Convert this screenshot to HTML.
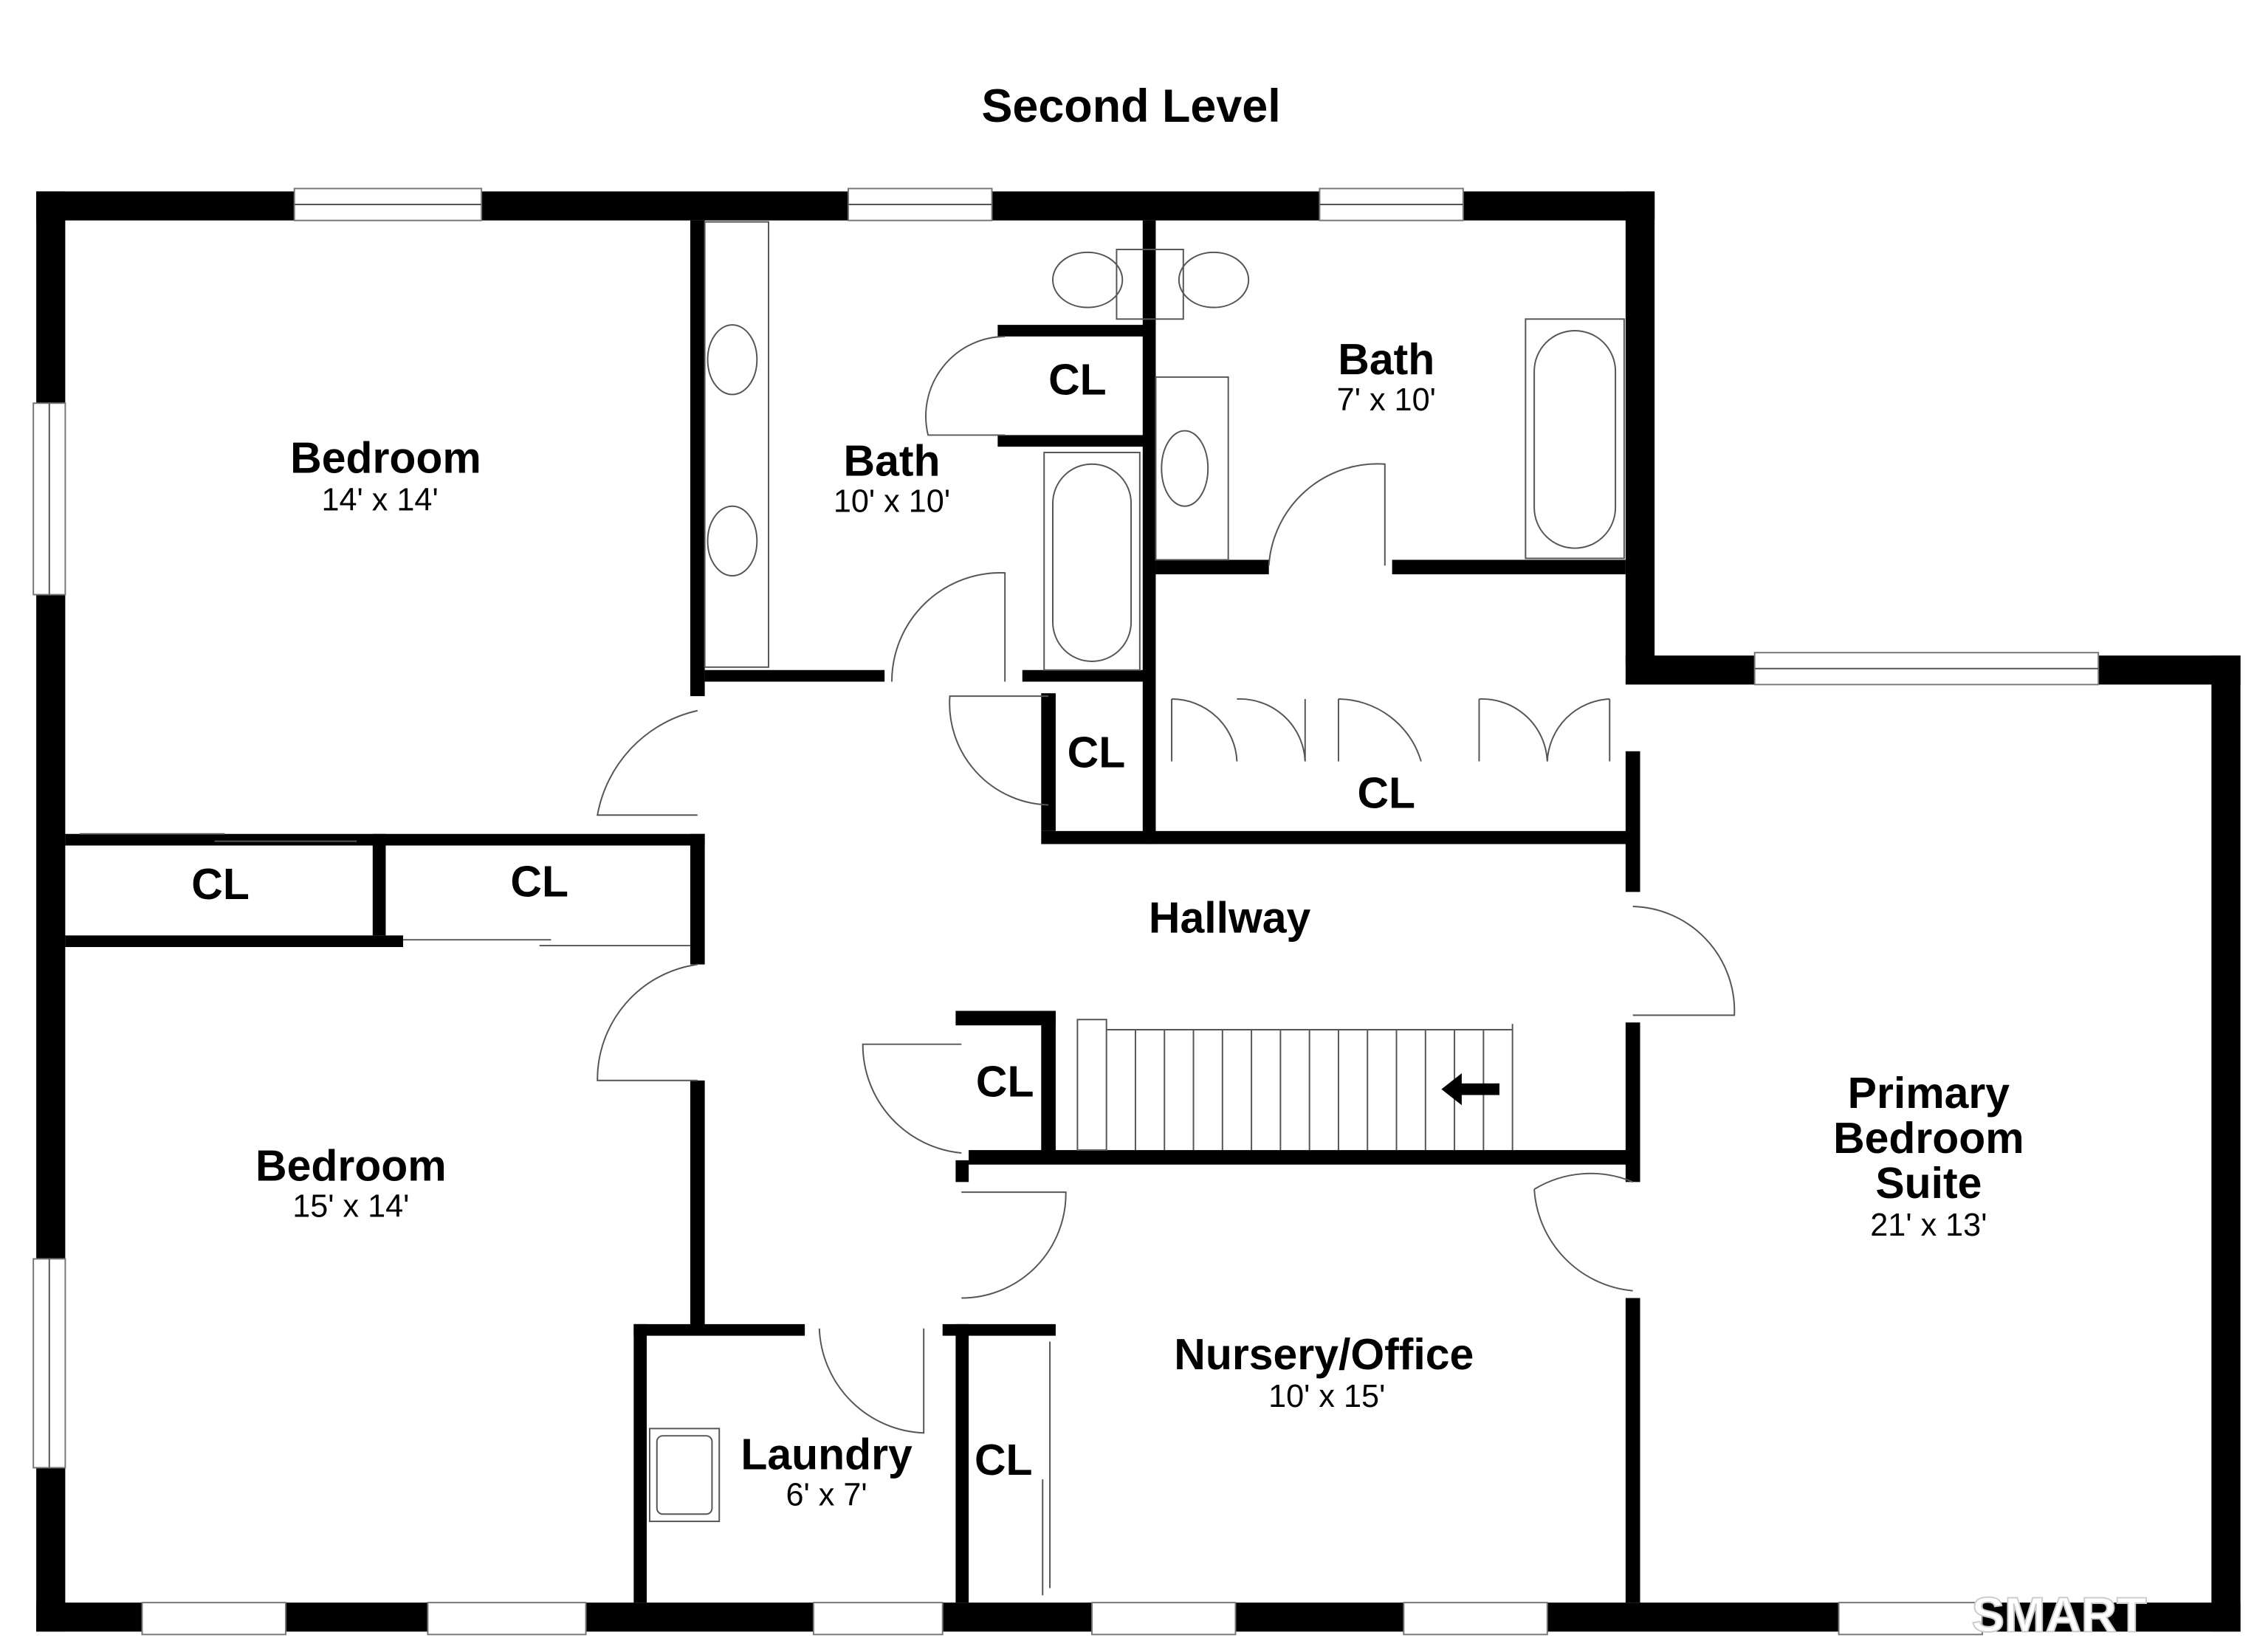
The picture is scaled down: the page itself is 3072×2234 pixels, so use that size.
<!DOCTYPE html>
<html><head><meta charset="utf-8"><style>
html,body{margin:0;padding:0;background:#fff;}
svg{display:block;}
text{font-family:"Liberation Sans",sans-serif;fill:#000;text-anchor:middle;}
.n{font-weight:bold;font-size:30px;}
.d{font-size:22px;}
.t{font-weight:bold;font-size:32px;}
</style></head><body>
<svg width="3072" height="2234" viewBox="0 0 1564 1137" preserveAspectRatio="none">
<rect width="1564" height="1137" fill="#fff"/>
<g fill="#000">
<!-- outer walls -->
<rect x="25" y="132" width="1116" height="20"/>
<rect x="25" y="132" width="20" height="993"/>
<rect x="25" y="1105" width="1520" height="20"/>
<rect x="1121" y="132" width="20" height="326"/>
<rect x="1121" y="452" width="424" height="20"/>
<rect x="1525" y="452" width="20" height="673"/>
<!-- inner walls -->
<rect x="476" y="152" width="10" height="328"/>
<rect x="45" y="575" width="441" height="8"/>
<rect x="45" y="645" width="233" height="8"/>
<rect x="257" y="575" width="9" height="70"/>
<rect x="476" y="575" width="10" height="90"/>
<rect x="476" y="745" width="10" height="170"/>
<rect x="437" y="913" width="118" height="8"/>
<rect x="437" y="913" width="9" height="192"/>
<rect x="659" y="913" width="9" height="192"/>
<rect x="650" y="913" width="78" height="8"/>
<rect x="486" y="462" width="124" height="8"/>
<rect x="705" y="462" width="90" height="8"/>
<rect x="788" y="152" width="9" height="430"/>
<rect x="688" y="224" width="102" height="8"/>
<rect x="688" y="300" width="102" height="8"/>
<rect x="797" y="386" width="78" height="10"/>
<rect x="960" y="386" width="161" height="10"/>
<rect x="718" y="573" width="410" height="9"/>
<rect x="1121" y="518" width="10" height="97"/>
<rect x="1121" y="705" width="10" height="110"/>
<rect x="1121" y="895" width="10" height="210"/>
<rect x="659" y="697" width="69" height="10"/>
<rect x="718" y="697" width="10" height="103"/>
<rect x="668" y="793" width="463" height="10"/>
<rect x="659" y="800" width="9" height="15"/>
<rect x="718" y="478" width="10" height="95"/>
</g>
<!-- windows -->
<g fill="#fff" stroke="#777" stroke-width="1">
<rect x="203" y="130" width="129" height="22"/>
<rect x="585" y="130" width="99" height="22"/>
<rect x="910" y="130" width="99" height="22"/>
<rect x="1210" y="450" width="237" height="22"/>
<rect x="23" y="278" width="22" height="132"/>
<rect x="23" y="868" width="22" height="144"/>
<rect x="98" y="1105" width="99" height="22"/>
<rect x="295" y="1105" width="109" height="22"/>
<rect x="561" y="1105" width="89" height="22"/>
<rect x="753" y="1105" width="99" height="22"/>
<rect x="968" y="1105" width="99" height="22"/>
<rect x="1268" y="1105" width="99" height="22"/>
</g>
<g fill="none" stroke="#555" stroke-width="1">
<line x1="203" y1="141" x2="332" y2="141"/><line x1="585" y1="141" x2="684" y2="141"/><line x1="910" y1="141" x2="1009" y2="141"/>
<line x1="1210" y1="461" x2="1447" y2="461"/><line x1="34" y1="278" x2="34" y2="410"/><line x1="34" y1="868" x2="34" y2="1012"/>
<!-- doors -->
<path d="M481 490 A90 90 0 0 0 412 562 L481 562"/>
<path d="M481 665 A80 80 0 0 0 412 745 L481 745"/>
<path d="M615 470 A75 75 0 0 1 693 395 L693 470"/>
<path d="M693 232 A55 55 0 0 0 640 300 L693 300"/>
<path d="M875 390 A75 75 0 0 1 955 320 L955 390"/>
<path d="M723 480 L655 480 A70 70 0 0 0 723 555"/>
<path d="M808 482 L808 525 M808 482 A45 45 0 0 1 853 525 M853 482 A45 45 0 0 1 900 525 L900 482"/>
<path d="M923 482 L923 525 M923 482 A60 60 0 0 1 980 525 M1020 482 L1020 525 M1020 482 A45 45 0 0 1 1067 525 M1110 482 L1110 525 M1067 525 A45 45 0 0 1 1110 482"/>
<path d="M1126 625 A72 72 0 0 1 1196 700 L1126 700"/>
<path d="M1126 815 A75 75 0 0 0 1058 820 M1058 820 A75 75 0 0 0 1126 890"/>
<path d="M663 720 L595 720 A75 75 0 0 0 663 795"/>
<path d="M663 822 L735 822 A72 72 0 0 1 663 895"/>
<path d="M565 916 A75 75 0 0 0 637 988 L637 916"/>
<!-- sliding doors -->
<path d="M55 575 L155 575 M148 580 L246 580 M278 648 L380 648 M372 652 L476 652"/>
<path d="M724 925 L724 1095 M719 1020 L719 1100"/>
<!-- vanity -->
<rect x="486" y="153" width="44" height="307"/>
<ellipse cx="505" cy="248" rx="17" ry="24"/><ellipse cx="505" cy="373" rx="17" ry="24"/>
<rect x="797" y="260" width="50" height="126"/>
<ellipse cx="817" cy="323" rx="16" ry="26"/>
<!-- toilets -->
<ellipse cx="750" cy="193" rx="24" ry="19"/><rect x="770" y="172" width="46" height="48"/><ellipse cx="837" cy="193" rx="24" ry="19"/>
<!-- tubs -->
<rect x="720" y="312" width="66" height="150"/><rect x="726" y="320" width="54" height="136" rx="27"/>
<rect x="1052" y="220" width="68" height="165"/><rect x="1058" y="228" width="56" height="150" rx="28"/>
<!-- laundry sink -->
<rect x="448" y="985" width="48" height="64"/><rect x="453" y="990" width="38" height="54" rx="4"/>
<!-- stairs -->
<rect x="743" y="703" width="20" height="90"/>
<path d="M763 710 L1043 710 M1043 706 L1043 793"/>
</g>
<g stroke="#555" stroke-width="1">
<line x1="783" y1="710" x2="783" y2="793"/><line x1="803" y1="710" x2="803" y2="793"/><line x1="823" y1="710" x2="823" y2="793"/><line x1="843" y1="710" x2="843" y2="793"/><line x1="863" y1="710" x2="863" y2="793"/><line x1="883" y1="710" x2="883" y2="793"/><line x1="903" y1="710" x2="903" y2="793"/><line x1="923" y1="710" x2="923" y2="793"/><line x1="943" y1="710" x2="943" y2="793"/><line x1="963" y1="710" x2="963" y2="793"/><line x1="983" y1="710" x2="983" y2="793"/><line x1="1003" y1="710" x2="1003" y2="793"/><line x1="1023" y1="710" x2="1023" y2="793"/>
</g>
<path d="M994 751 L1008 740 L1008 747 L1034 747 L1034 755 L1008 755 L1008 762 Z" fill="#000"/>
<text class="t" x="780" y="84">Second Level</text>
<text class="n" x="266" y="326">Bedroom</text><text class="d" x="262" y="352">14' x 14'</text>
<text class="n" x="615" y="328">Bath</text><text class="d" x="615" y="353">10' x 10'</text>
<text class="n" x="743" y="272">CL</text>
<text class="n" x="956" y="258">Bath</text><text class="d" x="956" y="283">7' x 10'</text>
<text class="n" x="756" y="529">CL</text>
<text class="n" x="956" y="557">CL</text>
<text class="n" x="152" y="620">CL</text>
<text class="n" x="372" y="618">CL</text>
<text class="n" x="848" y="643">Hallway</text>
<text class="n" x="693" y="756">CL</text>
<text class="n" x="242" y="814">Bedroom</text><text class="d" x="242" y="839">15' x 14'</text>
<text class="n" x="1330" y="764">Primary</text><text class="n" x="1330" y="795">Bedroom</text><text class="n" x="1330" y="826">Suite</text><text class="d" x="1330" y="852">21' x 13'</text>
<text class="n" x="913" y="944">Nursery/Office</text><text class="d" x="915" y="970">10' x 15'</text>
<text class="n" x="570" y="1013">Laundry</text><text class="d" x="570" y="1038">6' x 7'</text>
<text class="n" x="692" y="1017">CL</text>
<text x="1420" y="1125" style="font-size:34px;font-weight:bold;fill:#fff;stroke:#ccc;stroke-width:1">SMART</text>
</svg>
</body></html>
